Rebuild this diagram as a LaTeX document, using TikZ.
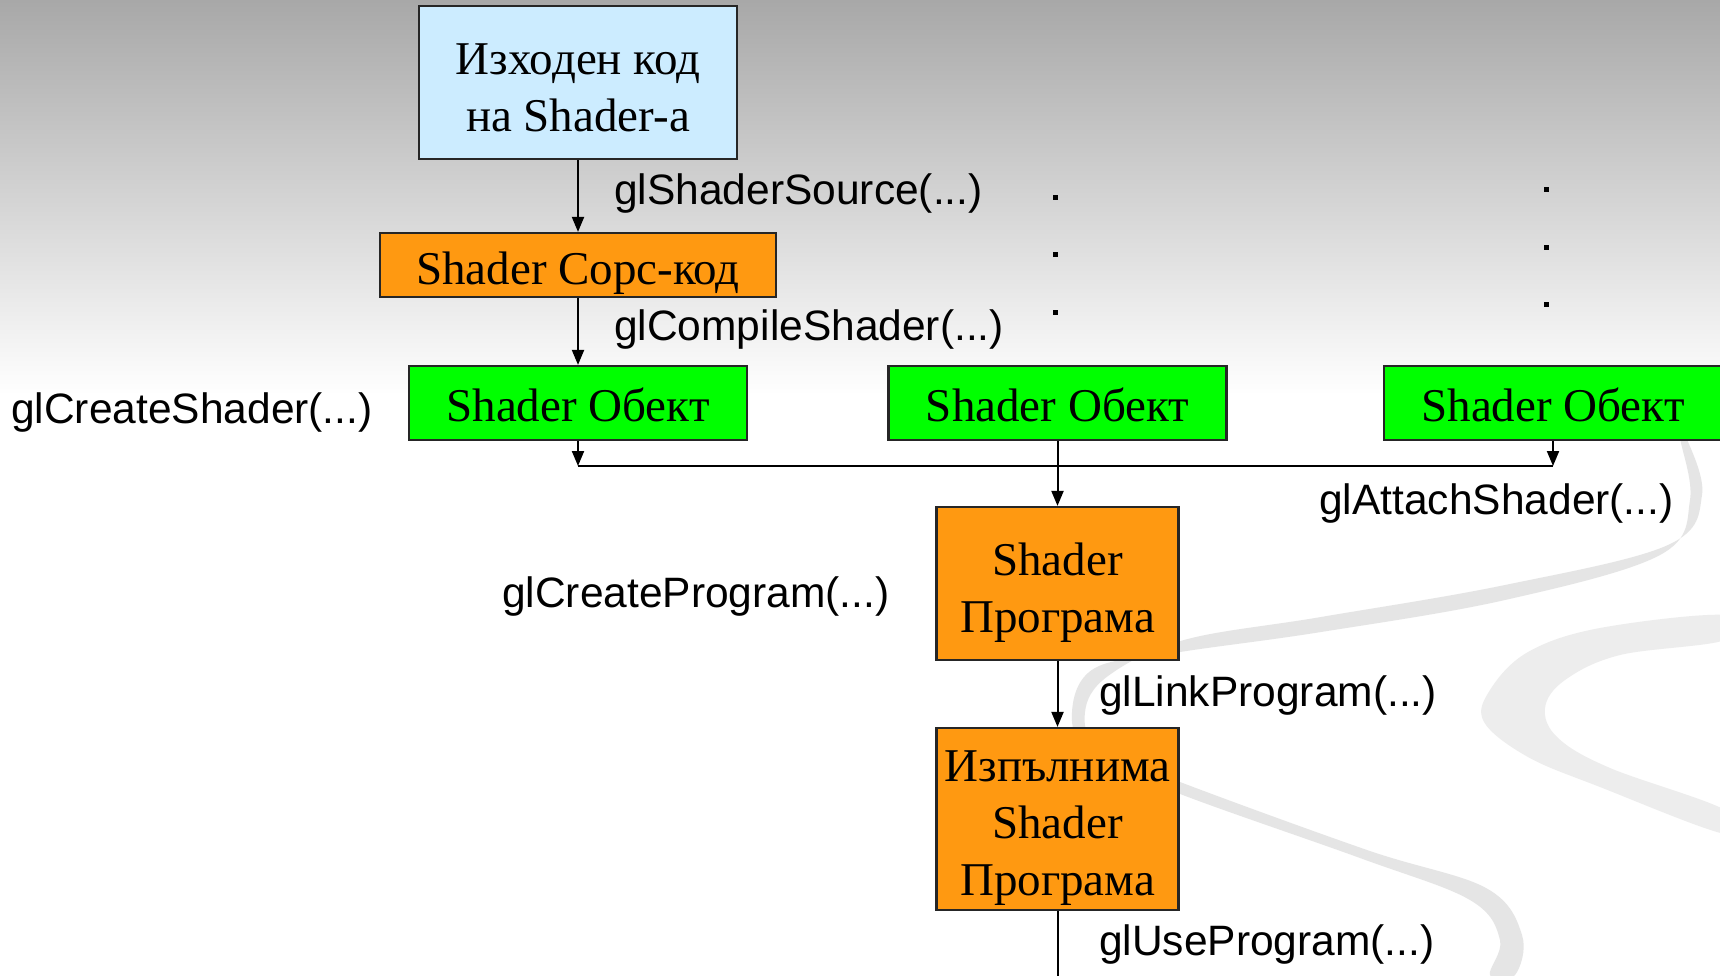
\documentclass[tikz,border=0pt]{standalone}
\usepackage{fontspec}
\setmainfont{Liberation Serif}
\newfontfamily\labelfont{Liberation Sans}
\usetikzlibrary{arrows.meta}
\definecolor{srcblue}{RGB}{204,236,255}
\definecolor{boxorange}{RGB}{255,153,17}
\definecolor{boxgreen}{RGB}{0,255,0}
\definecolor{bgtop}{RGB}{168,168,168}
\begin{document}
\begin{tikzpicture}[x=1pt,y=-1pt,
  box/.style={draw=black!85, line width=2.2pt, inner sep=0pt},
  txt/.style={inner sep=0pt, align=center, font=\fontsize{47}{57}\selectfont},
  lbl/.style={inner sep=0pt, anchor=west, yshift=-4pt, font=\labelfont\fontsize{42.5}{50}\selectfont},
  conn/.style={line width=2pt, -{Triangle[length=15pt,width=12pt]}},
  wire/.style={line width=2.4pt},
  swoosh/.style={fill=black!10, draw=none}]

\clip (0,0) rectangle (1720,975);
\fill[white] (0,0) rectangle (1720,975);
\shade[top color=bgtop, bottom color=white] (0,0) rectangle (1720,395);

% decorative ribbons
\fill[swoosh] plot[smooth cycle, tension=0.6] coordinates {
 (1686,437) (1702,495) (1668,545) (1505,585) (1321,617) (1184,640) (1108,676)
 (1085,712) (1100,748) (1180,782) (1367,850) (1486,888) (1522,935) (1515,975)
 (1490,975) (1500,940) (1470,900) (1360,858) (1175,792) (1090,752) (1072,712)
 (1095,668) (1180,652) (1321,632) (1505,600) (1660,555) (1690,500) (1680,437)};
\fill[swoosh, fill=black!7] plot[smooth cycle, tension=0.6] coordinates {
 (1725,615) (1600,628) (1528,652) (1490,690) (1484,722) (1528,757) (1600,787) (1725,834)
 (1725,810) (1610,768) (1558,738) (1545,708) (1565,680) (1620,655) (1725,640)};

% nodes
\node[box, fill=srcblue, minimum width=318pt, minimum height=153pt,
  label={[txt, yshift=-5pt]center:{Изходен код\\на Shader-а}}] (src) at (578,82.5) {};
\node[box, fill=boxorange, minimum width=396pt, minimum height=64pt,
  label={[txt, yshift=-8pt]center:{Shader Сорс-код}}] (scode) at (578,265) {};
\node[box, fill=boxgreen, minimum width=338pt, minimum height=74pt,
  label={[txt, yshift=-2pt]center:{Shader Обект}}] (obj1) at (578,403) {};
\node[box, fill=boxgreen, minimum width=338pt, minimum height=74pt,
  label={[txt, yshift=-2pt]center:{Shader Обект}}] (obj2) at (1057.5,403) {};
\node[box, fill=boxgreen, minimum width=338pt, minimum height=74pt,
  label={[txt, yshift=-2pt]center:{Shader Обект}}] (obj3) at (1553,403) {};
\node[box, fill=boxorange, minimum width=242pt, minimum height=153pt,
  label={[txt, yshift=-9pt]center:{Shader\\Програма}}] (prog) at (1057.5,583.5) {};
\node[box, fill=boxorange, minimum width=242pt, minimum height=182pt,
  label={[txt, yshift=-9pt]center:{Изпълнима\\Shader\\Програма}}] (exec) at (1057.5,819) {};

% connectors
\coordinate (j1) at (578,466);
\coordinate (j3) at (obj3.south |- j1);
\coordinate (bot) at (1057.5,985);
\draw[conn] (src) -- (scode);
\draw[conn] (scode) -- (obj1);
\draw[conn] (obj1.south) -- (j1);
\draw[conn] (obj3.south) -- (j3);
\draw[wire] (j1) -- (j3);
\draw[conn] (obj2) -- (prog);
\draw[conn] (prog) -- (exec);
\draw[line width=2pt] (exec) -- (bot);

% labels
\node[lbl] (lsrc) at (614,190) {glShaderSource(...)};
\node[lbl] (lcomp) at (614,326) {glCompileShader(...)};
\node[lbl] (lcreate) at (11,409) {glCreateShader(...)};
\node[lbl] (lattach) at (1319,500) {glAttachShader(...)};
\node[lbl] (lcprog) at (502,592) {glCreateProgram(...)};
\node[lbl] (llink) at (1099,691) {glLinkProgram(...)};
\node[lbl] (luse) at (1099,940) {glUseProgram(...)};

% dots
\foreach \y in {197,254,312} \fill (1052.5,\y-2.5) rectangle +(5,5);
\foreach \y in {189,247,304} \fill (1543.5,\y-2.5) rectangle +(5,5);
\end{tikzpicture}
\end{document}
